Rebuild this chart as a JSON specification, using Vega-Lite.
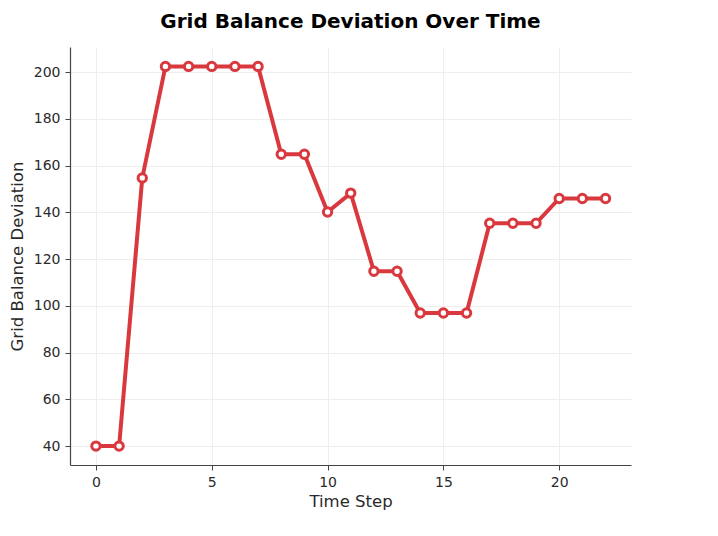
{
  "$schema": "https://vega.github.io/schema/vega-lite/v6.json",
  "width": 561,
  "height": 418,
  "autosize": {"type": "none"},
  "padding": {"left": 70, "top": 47, "right": 87, "bottom": 71},
  "background": "white",
  "title": {
    "text": "Grid Balance Deviation Over Time",
    "font": "DejaVu Sans",
    "fontSize": 20,
    "fontWeight": "bold",
    "color": "black",
    "anchor": "middle",
    "offset": 15
  },
  "data": {
    "values": [
      {"t": 0, "v": 40},
      {"t": 1, "v": 40},
      {"t": 2, "v": 154.7},
      {"t": 3, "v": 202.4},
      {"t": 4, "v": 202.4},
      {"t": 5, "v": 202.4},
      {"t": 6, "v": 202.4},
      {"t": 7, "v": 202.4},
      {"t": 8, "v": 164.8},
      {"t": 9, "v": 164.8},
      {"t": 10, "v": 140.1},
      {"t": 11, "v": 148.2},
      {"t": 12, "v": 114.8},
      {"t": 13, "v": 114.8},
      {"t": 14, "v": 96.9},
      {"t": 15, "v": 96.9},
      {"t": 16, "v": 96.9},
      {"t": 17, "v": 135.3},
      {"t": 18, "v": 135.3},
      {"t": 19, "v": 135.3},
      {"t": 20, "v": 145.9},
      {"t": 21, "v": 145.9},
      {"t": 22, "v": 145.9}
    ]
  },
  "config": {
    "view": {"stroke": null},
    "axis": {
      "labelFont": "DejaVu Sans",
      "titleFont": "DejaVu Sans",
      "labelFontSize": 14,
      "titleFontSize": 16.5,
      "labelColor": "#2a2a2a",
      "titleColor": "#2a2a2a",
      "titleFontWeight": "normal",
      "domainColor": "#444444",
      "domainWidth": 1.2,
      "tickColor": "#444444",
      "tickSize": 5,
      "gridColor": "#eeeeee",
      "gridWidth": 1
    }
  },
  "encoding": {
    "x": {
      "field": "t",
      "type": "quantitative",
      "title": "Time Step",
      "scale": {"domain": [-1.12, 23.1], "nice": false, "zero": false},
      "axis": {"values": [0, 5, 10, 15, 20], "labelPadding": 5, "titlePadding": 4}
    },
    "y": {
      "field": "v",
      "type": "quantitative",
      "title": "Grid Balance Deviation",
      "scale": {"domain": [31.9, 210.7], "nice": false, "zero": false},
      "axis": {"values": [40, 60, 80, 100, 120, 140, 160, 180, 200], "labelPadding": 5, "titlePadding": 8}
    }
  },
  "layer": [
    {
      "mark": {"type": "line", "color": "#d9393e", "strokeWidth": 4}
    },
    {
      "mark": {"type": "point", "filled": true, "fill": "white", "stroke": "#d9393e", "strokeWidth": 3, "size": 70, "opacity": 1}
    }
  ]
}
